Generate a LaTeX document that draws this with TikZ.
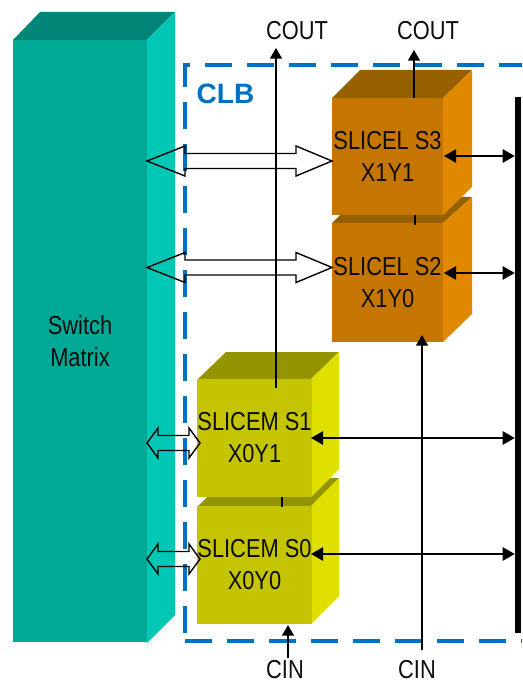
\documentclass[tikz,border=0pt]{standalone}
\usepackage{fontspec}
\usepackage{graphicx}
\setmainfont{Liberation Sans}
\usetikzlibrary{arrows.meta}
\definecolor{tealF}{HTML}{00A896}
\definecolor{tealT}{HTML}{008576}
\definecolor{tealS}{HTML}{00C8B4}
\definecolor{orF}{HTML}{C47600}
\definecolor{orT}{HTML}{966000}
\definecolor{orS}{HTML}{E08800}
\definecolor{yeF}{HTML}{C4C400}
\definecolor{yeT}{HTML}{949400}
\definecolor{yeS}{HTML}{E0E000}
\definecolor{clb}{HTML}{0070C0}
\newcommand{\cnd}[1]{\scalebox{.84}[1]{#1}}
% outline arrow with a head at both ends: tip x, head-back x, head-back x, tip x, centre y
\newcommand{\hollowarrow}[5]{%
  \coordinate (ha) at (#1,#5);
  \coordinate (hb) at (#2,#5);
  \coordinate (hc) at (#3,#5);
  \coordinate (hd) at (#4,#5);
  \draw[hollowline] (ha) -- (hb |- 0,{#5-15}) -- (hb |- 0,{#5-7.5}) -- (hc |- 0,{#5-7.5}) -- (hc |- 0,{#5-15})
    -- (hd) -- (hc |- 0,{#5+15}) -- (hc |- 0,{#5+7.5}) -- (hb |- 0,{#5+7.5}) -- (hb |- 0,{#5+15}) -- cycle;
}
\tikzset{
  x=.75pt,y=-.75pt,
  lbl/.style={inner sep=0pt,align=center,text=black!95,font=\fontsize{19.5}{24}\selectfont},
  frontbox/.style={lbl,minimum width=83.25pt,minimum height=87.75pt,rectangle},
  clbline/.style={draw=clb,line width=2.4pt,dash pattern=on 20.5pt off 11pt},
  wire/.style={draw=black,line width=1.05pt},
  upwire/.style={wire,-{Triangle[length=8pt,width=9pt]}},
  bothwire/.style={wire,{Triangle[length=9pt,width=10pt]}-{Triangle[length=9pt,width=10pt]}},
  tick/.style={draw=black,line width=1.3pt},
  hollowline/.style={draw=black,line width=1.05pt,line join=miter},
}
\begin{document}
\begin{tikzpicture}
\useasboundingbox[fill=white] (0,0) rectangle (522,684);
% switch matrix
\fill[tealT] (13,40) -- (40,12) -- (175,12) -- (147,40) -- cycle;
\fill[tealS] (147,40) -- (175,12) -- (175,615) -- (147,643) -- cycle;
\node[lbl,fill=tealF,minimum width=100.5pt,minimum height=451.5pt,rectangle] (sw) at (80,341) {\cnd{Switch}\\[.1pt]\cnd{Matrix}};
% slices: orange
\fill[orT] (332,223) -- (358,197) -- (472,197) -- (443,223) -- cycle;
\fill[orS] (443,223) -- (472,197) -- (472,314) -- (443,342) -- cycle;
\node[frontbox,fill=orF,minimum height=89.25pt] (s2) at (387.5,282.5) {\cnd{SLICEL S2}\\\cnd{X1Y0}};
\fill[orT] (332,98) -- (360,70) -- (472,70) -- (443,98) -- cycle;
\fill[orS] (443,98) -- (472,70) -- (472,187) -- (443,215) -- cycle;
\node[frontbox,fill=orF] (s3) at (387.5,156.5) {\cnd{SLICEL S3}\\\cnd{X1Y1}};
% slices: yellow
\fill[yeT] (198,506) -- (226,478) -- (339,478) -- (311,506) -- cycle;
\fill[yeS] (311,506) -- (339,478) -- (339,596) -- (311,624) -- cycle;
\node[frontbox,fill=yeF,minimum width=84.75pt,minimum height=88.5pt] (s0) at (254.5,565) {\cnd{SLICEM S0}\\\cnd{X0Y0}};
\fill[yeT] (198,379) -- (226,352) -- (339,352) -- (311,379) -- cycle;
\fill[yeS] (311,379) -- (339,352) -- (339,469) -- (311,497) -- cycle;
\node[frontbox,fill=yeF,minimum width=84.75pt,minimum height=88.5pt] (s1) at (254.5,438) {\cnd{SLICEM S1}\\\cnd{X0Y1}};
% bus bar
\node[rectangle,fill=black,inner sep=0pt,minimum width=4.5pt,minimum height=402pt] (bar) at (518,365) {};
% CLB outline
\draw[clbline] (190,65) -- (185,65) -- (185,641);
\draw[clbline] (205,65) -- (522,65);
\draw[clbline] (185,641) -- (522,641);
\node[inner sep=0pt,text=clb,font=\fontsize{21}{24}\selectfont\bfseries] (clbl) at (225.5,94) {CLB};
% labels
\node[lbl] (c1) at (297,31) {\cnd{COUT}};
\node[lbl] (c2) at (428,31) {\cnd{COUT}};
\node[lbl] (i1) at (285,670) {\cnd{CIN}};
\node[lbl] (i2) at (417,670) {\cnd{CIN}};
% free ends
\coordinate (c1a) at (276,48);
\coordinate (c1b) at (276,388);
\coordinate (c2a) at (414,50);
\coordinate (c2b) at (414,98);
\coordinate (i1a) at (288,658);
\coordinate (i1b) at (288,625);
\coordinate (i2a) at (422,650);
\coordinate (i2b) at (422,335);
\coordinate (t1a) at (415,215);
\coordinate (t1b) at (415,225);
\coordinate (t2a) at (282,497);
\coordinate (t2b) at (282,507);
\coordinate (e3) at (444,156);
\coordinate (e2) at (444,273);
\coordinate (e1) at (311,438);
\coordinate (e0) at (311,554);
% hollow arrows
\hollowarrow{147}{185}{296}{332}{161}
\hollowarrow{147}{185}{296}{332}{267.5}
\hollowarrow{147}{158}{189}{200}{443}
\hollowarrow{147}{158}{189}{200}{559}
% wires
\draw[upwire] (c1b) -- (c1a);
\draw[upwire] (c2b) -- (c2a);
\draw[upwire] (i1a) -- (i1b);
\draw[upwire] (i2a) -- (i2b);
\draw[tick] (t1a) -- (t1b);
\draw[tick] (t2a) -- (t2b);
\draw[bothwire] (e3) -- (e3 -| bar.west);
\draw[bothwire] (e2) -- (e2 -| bar.west);
\draw[bothwire] (e1) -- (e1 -| bar.west);
\draw[bothwire] (e0) -- (e0 -| bar.west);
\end{tikzpicture}
\end{document}
